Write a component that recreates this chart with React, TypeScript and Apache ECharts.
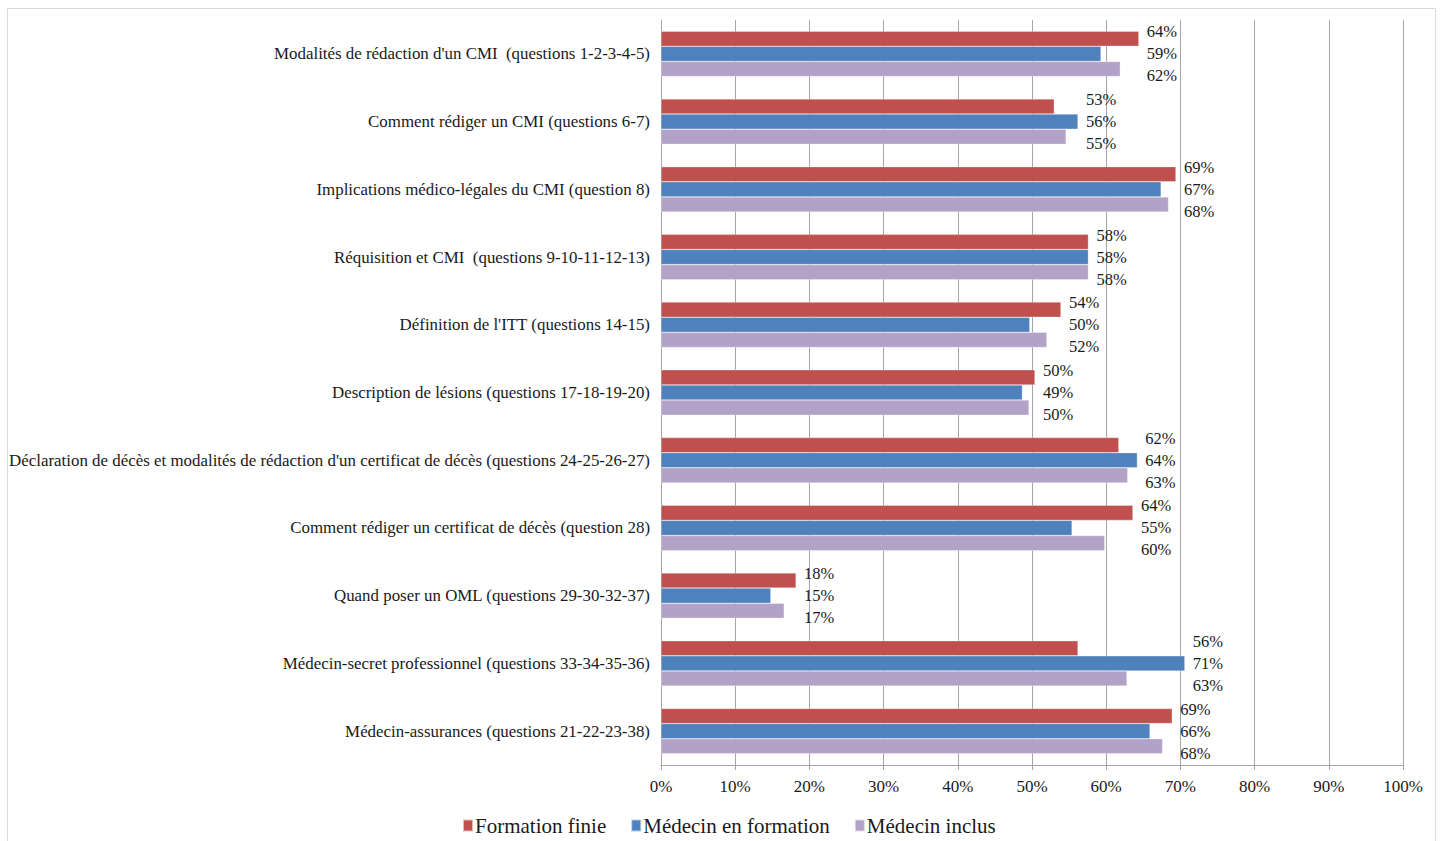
import React, { useEffect, useRef } from "react";
import * as echarts from "echarts";

const categories = [
  "Modalités de rédaction d'un CMI  (questions 1-2-3-4-5)",
  "Comment rédiger un CMI (questions 6-7)",
  "Implications médico-légales du CMI (question 8)",
  "Réquisition et CMI  (questions 9-10-11-12-13)",
  "Définition de l'ITT (questions 14-15)",
  "Description de lésions (questions 17-18-19-20)",
  "Déclaration de décès et modalités de rédaction d'un certificat de décès (questions 24-25-26-27)",
  "Comment rédiger un certificat de décès (question 28)",
  "Quand poser un OML (questions 29-30-32-37)",
  "Médecin-secret professionnel (questions 33-34-35-36)",
  "Médecin-assurances (questions 21-22-23-38)",
];

const formationFinie = [64.4, 53.0, 69.4, 57.6, 53.9, 50.4, 61.7, 63.6, 18.2, 56.2, 68.9];
const medecinEnFormation = [59.3, 56.2, 67.4, 57.6, 49.7, 48.7, 64.2, 55.4, 14.8, 70.6, 65.9];
const medecinInclus = [61.9, 54.6, 68.4, 57.6, 52.0, 49.6, 62.9, 59.8, 16.6, 62.8, 67.6];

const seriesNames = ["Formation finie", "Médecin en formation", "Médecin inclus"];
const colors = ["#C0504D", "#4F81BD", "#B3A2C8"];

const FONT = "Liberation Serif";

export default function App() {
  const ref = useRef<HTMLDivElement>(null);

  useEffect(() => {
    document.body.style.margin = "0";
    if (!ref.current) return;
    const chart = echarts.init(ref.current, undefined, { renderer: "svg" });
    const all = [formationFinie, medecinEnFormation, medecinInclus];
    const labelData = categories.map((_, i) => [
      Math.max(formationFinie[i], medecinEnFormation[i], medecinInclus[i]),
      i,
    ]);

    chart.setOption({
      animation: false,
      backgroundColor: "#ffffff",
      textStyle: { fontFamily: FONT },
      graphic: [
        {
          type: "rect",
          shape: { x: 7.5, y: 8.5, width: 1428, height: 845 },
          style: { fill: "none", stroke: "#D9D9D9", lineWidth: 1 },
          silent: true,
          z: -10,
        },
      ],
      grid: { left: 661, top: 20, right: 41, bottom: 76, containLabel: false },
      legend: {
        top: 810,
        left: 457,
        icon: "rect",
        itemWidth: 10,
        itemHeight: 12,
        itemGap: 24,
        formatter: "{t|{name}}",
        textStyle: {
          fontFamily: FONT,
          fontSize: 21,
          color: "#1a1a1a",
          padding: [0, 0, 0, -3],
          rich: { t: { fontFamily: FONT, fontSize: 21, color: "#1a1a1a" } },
        },
        data: seriesNames,
      },
      xAxis: {
        type: "value",
        min: 0,
        max: 100,
        interval: 10,
        axisLine: { show: true, lineStyle: { color: "#A6A6A6" } },
        axisTick: { show: true, length: 5, lineStyle: { color: "#A6A6A6" } },
        axisLabel: {
          formatter: "{value}%",
          fontFamily: FONT,
          fontSize: 17,
          color: "#1a1a1a",
          margin: 13,
        },
        splitLine: { show: true, lineStyle: { color: "#A6A6A6", width: 1 } },
      },
      yAxis: {
        type: "category",
        inverse: true,
        data: categories,
        axisLine: { show: true, lineStyle: { color: "#A6A6A6" } },
        axisTick: { show: false },
        axisLabel: {
          fontFamily: FONT,
          fontSize: 16.9,
          color: "#1a1a1a",
          margin: 11,
        },
      },
      series: [
        ...all.map((d, k) => ({
          name: seriesNames[k],
          type: "bar",
          data: d,
          barGap: "0%",
          barCategoryGap: "33%",
          itemStyle: { color: colors[k], borderColor: "rgba(255,255,255,0.6)", borderWidth: 0.5 },
        })),
        {
          type: "custom",
          coordinateSystem: "cartesian2d",
          data: labelData,
          encode: { x: 0, y: 1 },
          silent: true,
          z: 10,
          renderItem: (params: any, api: any) => {
            const idx = api.value(1);
            const pt = api.coord([api.value(0), idx]);
            const offs = [-22, 0, 22];
            return {
              type: "group",
              children: all.map((d, k) => ({
                type: "text",
                style: {
                  text: Math.round(d[idx]) + "%",
                  x: pt[0] + 8,
                  y: pt[1] + offs[k],
                  fill: "#1a1a1a",
                  font: '16.5px "Liberation Serif"',
                  textAlign: "left",
                  align: "left",
                  textVerticalAlign: "middle",
                  verticalAlign: "middle",
                },
              })),
            };
          },
        },
      ],
    });

    return () => chart.dispose();
  }, []);

  return <div ref={ref} style={{ width: 1444, height: 841 }} />;
}
